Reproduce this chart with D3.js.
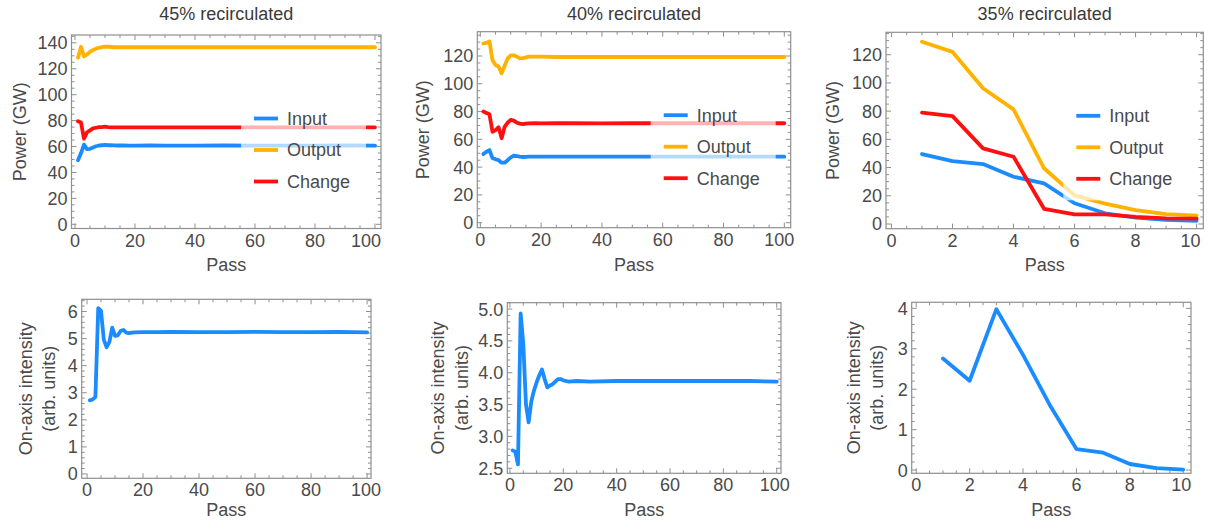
<!DOCTYPE html>
<html>
<head>
<meta charset="utf-8">
<script src="https://cdn.jsdelivr.net/npm/d3@7"></script>
<style>
  html, body { margin: 0; padding: 0; background: #fff; }
  svg { display: block; font-family: "Liberation Sans", Arial, sans-serif; }
</style>
</head>
<body>
<svg id="chart" width="1215" height="523"></svg>
<script>
// ---------- data ----------
const titles = ["45% recirculated", "40% recirculated", "35% recirculated"];
const seriesNames = ["Input", "Output", "Change"];
const xLabel = "Pass";
const powerLabel = "Power (GW)";
const intensityLabel = ["On-axis intensity", "(arb. units)"];

// 45% recirculated: power per pass
const pass45 = [1,2,3,4,5,6,7,8,9,10,11,12,13,14,15,16,18,20,25,30,40,50,60,70,80,90,100];
const input45 = [49.5,55,61.5,58,58.2,59.2,60.2,60.8,61,61.2,61,61,60.9,60.8,60.8,60.8,60.7,60.7,60.8,60.7,60.7,60.8,60.7,60.7,60.7,60.8,60.7];
const output45 = [128.5,137,129.5,131,133,134.5,135.5,136.2,136.7,137,137,136.8,136.6,136.6,136.6,136.7,136.6,136.6,136.6,136.6,136.6,136.6,136.6,136.6,136.6,136.6,136.6];
const change45 = [79.5,78.5,66,71,72.5,74,74.5,75,75,75.3,75,74.8,74.8,74.8,74.8,74.8,74.8,74.8,74.8,74.8,74.8,74.8,74.8,74.8,74.8,74.8,74.8];

// 40% recirculated: power per pass
const pass40 = [1,2,3,4,5,6,7,8,9,10,11,12,13,14,15,16,18,20,25,30,40,50,60,70,80,90,100];
const input40 = [49.4,51.1,52.3,46.5,45.6,45,43.2,43.2,45,47,48.2,48,47.5,47.3,47.4,47.5,47.5,47.5,47.5,47.5,47.5,47.5,47.5,47.5,47.5,47.5,47.5];
const output40 = [129,129.5,130.5,117,113.5,112.5,107.5,113,118.3,120.5,120.5,119.5,118.3,118.5,119,119.5,119.5,119.5,119.3,119.3,119.3,119.3,119.3,119.3,119.3,119.3,119.3];
const change40 = [80,79,78,65.5,66.7,68.7,60.8,69,72,74,73.5,72,71.3,71,71.3,71.5,71.6,71.5,71.6,71.6,71.5,71.6,71.6,71.6,71.6,71.6,71.6];

// 35% recirculated: power per pass
const pass35 = [1,2,3,4,5,6,7,8,9,10];
const input35 = [49.6,44.6,42.5,33.5,28.8,14.7,7.6,4.5,3,2.2];
const output35 = [129.2,122,96.2,81.3,39.5,20.3,14.5,9.8,7,6];
const change35 = [78.9,76.5,53.6,47.7,10.8,6.8,6.8,5,4,3.8];

// on-axis intensity per pass
const passI45 = [1,2,3,4,5,6,7,8,9,10,11,12,13,14,15,16,17,20,25,30,40,50,60,70,80,90,100];
const intensity45 = [2.72,2.75,2.85,6.12,6.02,4.95,4.68,4.88,5.4,5.1,5.12,5.28,5.32,5.22,5.2,5.22,5.23,5.24,5.24,5.25,5.24,5.24,5.25,5.24,5.24,5.25,5.23];
const passI40 = [1,2,3,4,5,6,7,8,9,10,11,12,13,14,15,16,17,18,19,20,21,22,25,30,40,50,60,70,80,90,100];
const intensity40 = [2.78,2.76,2.56,4.93,4.45,3.5,3.22,3.55,3.72,3.85,3.96,4.05,3.9,3.77,3.8,3.82,3.86,3.9,3.9,3.88,3.87,3.86,3.87,3.86,3.87,3.87,3.87,3.87,3.87,3.87,3.86];
const passI35 = [1,2,3,4,5,6,7,8,9,10];
const intensity35 = [2.76,2.21,3.98,2.85,1.61,0.52,0.43,0.15,0.05,0.01];

// ---------- styling ----------
const colors = { Input: "#1a8cff", Output: "#ffb300", Change: "#ff1010" };
const frameColor = "#8f8f8f";
const textColor = "#4a4a4a";
const fontSize = 18;

// panel layout: frame box in px, axis domains, tick spacing
const panels = [
  { frame: [71.5, 381, 35, 228.5], xDom: [-1.17, 102], yDom: [-3.24, 146.05],
    xMajor: 20, xMinor: 5, yMajor: 20, yMinor: 5, yFmt: "d", lastDx: -9,
    ylx: [19.5], passY: 271, title: titles[0],
    series: [["Input", pass45, input45], ["Output", pass45, output45], ["Change", pass45, change45]] },
  { frame: [477.3, 790.7, 31.7, 227.7], xDom: [-1, 102.1], yDom: [-3.6, 137.5],
    xMajor: 20, xMinor: 5, yMajor: 20, yMinor: 5, yFmt: "d", lastDx: -5,
    ylx: [423], passY: 271, title: titles[1],
    series: [["Input", pass40, input40], ["Output", pass40, output40], ["Change", pass40, change40]] },
  { frame: [886, 1203.3, 32.3, 228.7], xDom: [-0.18, 10.22], yDom: [-3.33, 135.9],
    xMajor: 2, xMinor: 0.5, yMajor: 20, yMinor: 5, yFmt: "d", lastDx: -6,
    ylx: [833], passY: 271, title: titles[2],
    series: [["Input", pass35, input35], ["Output", pass35, output35], ["Change", pass35, change35]] },
  { frame: [81.7, 371, 299.3, 478.3], xDom: [-1.9, 101.4], yDom: [-0.16, 6.45],
    xMajor: 20, xMinor: 5, yMajor: 1, yMinor: 0.2, yFmt: "d", lastDx: -1,
    ylx: [26, 49], passY: 516,
    series: [["Input", passI45, intensity45]] },
  { frame: [507.3, 781, 302.7, 473.3], xDom: [-1, 101.6], yDom: [2.42, 5.10],
    xMajor: 20, xMinor: 5, yMajor: 0.5, yMinor: 0.1, yFmt: ".1f", lastDx: -2,
    ylx: [438, 462], passY: 516,
    series: [["Input", passI40, intensity40]] },
  { frame: [911.7, 1191, 302.3, 473.3], xDom: [-0.17, 10.29], yDom: [-0.08, 4.15],
    xMajor: 2, xMinor: 0.5, yMajor: 1, yMinor: 0.2, yFmt: "d", lastDx: -2,
    ylx: [854, 877], passY: 516,
    series: [["Input", passI35, intensity35]] }
];

const svg = d3.select("#chart");

function tickValues(dom, step) {
  const start = Math.ceil(dom[0] / step - 1e-9) * step;
  const vals = [];
  for (let v = start; v <= dom[1] + 1e-9; v += step) vals.push(+v.toFixed(6));
  return vals;
}

panels.forEach((p, i) => {
  const [fx0, fx1, fy0, fy1] = p.frame;
  const x = d3.scaleLinear().domain(p.xDom).range([fx0, fx1]);
  const y = d3.scaleLinear().domain(p.yDom).range([fy1, fy0]);
  const g = svg.append("g");

  const clipId = "clip" + i;
  svg.append("clipPath").attr("id", clipId)
    .append("rect").attr("x", fx0).attr("y", fy0).attr("width", fx1 - fx0).attr("height", fy1 - fy0);

  // tick marks on all four sides, pointing inward
  const xMaj = tickValues(p.xDom, p.xMajor);
  const xMin = tickValues(p.xDom, p.xMinor).filter(v => !xMaj.some(m => Math.abs(m - v) < 1e-6));
  const yMaj = tickValues(p.yDom, p.yMajor);
  const yMin = tickValues(p.yDom, p.yMinor).filter(v => !yMaj.some(m => Math.abs(m - v) < 1e-6));
  const ticks = g.append("g").attr("stroke", frameColor).attr("stroke-width", 1);
  const addX = (vals, len) => vals.forEach(v => {
    const px = x(v);
    ticks.append("line").attr("x1", px).attr("x2", px).attr("y1", fy1).attr("y2", fy1 - len);
    ticks.append("line").attr("x1", px).attr("x2", px).attr("y1", fy0).attr("y2", fy0 + len);
  });
  const addY = (vals, len) => vals.forEach(v => {
    const py = y(v);
    ticks.append("line").attr("x1", fx0).attr("x2", fx0 + len).attr("y1", py).attr("y2", py);
    ticks.append("line").attr("x1", fx1).attr("x2", fx1 - len).attr("y1", py).attr("y2", py);
  });
  addX(xMaj, 5); addX(xMin, 3);
  addY(yMaj, 5); addY(yMin, 3);

  // data lines
  const line = d3.line().x(d => x(d[0])).y(d => y(d[1]));
  const lines = g.append("g").attr("clip-path", `url(#${clipId})`);
  p.series.forEach(([name, xs, ys]) => {
    lines.append("path")
      .datum(xs.map((v, k) => [v, ys[k]]))
      .attr("d", line)
      .attr("fill", "none")
      .attr("stroke", colors[name])
      .attr("stroke-width", 3.8)
      .attr("stroke-linejoin", "round")
      .attr("stroke-linecap", "round");
  });

  // frame
  g.append("rect").attr("x", fx0).attr("y", fy0).attr("width", fx1 - fx0).attr("height", fy1 - fy0)
    .attr("fill", "none").attr("stroke", frameColor).attr("stroke-width", 1.2);

  // tick labels
  const labels = g.append("g").attr("fill", textColor).attr("font-size", fontSize);
  const xf = d3.format("d");
  xMaj.forEach((v, k) => {
    labels.append("text")
      .attr("x", x(v) + (k === xMaj.length - 1 ? p.lastDx : 0))
      .attr("y", fy1 + 18)
      .attr("text-anchor", "middle")
      .text(xf(v));
  });
  const yf = d3.format(p.yFmt);
  yMaj.forEach(v => {
    labels.append("text")
      .attr("x", fx0 - 4)
      .attr("y", y(v))
      .attr("dy", "0.36em")
      .attr("text-anchor", "end")
      .text(yf(v));
  });

  // axis titles
  const cx = (fx0 + fx1) / 2, cy = (fy0 + fy1) / 2;
  labels.append("text").attr("x", cx).attr("y", p.passY).attr("text-anchor", "middle").text(xLabel);
  const yTexts = p.ylx.length === 1 ? [powerLabel] : intensityLabel;
  yTexts.forEach((t, k) => {
    labels.append("text")
      .attr("transform", `translate(${p.ylx[k]},${cy}) rotate(-90)`)
      .attr("text-anchor", "middle")
      .attr("dominant-baseline", "central")
      .text(t);
  });

  if (p.title) {
    g.append("text").attr("x", cx).attr("y", 19.5).attr("text-anchor", "middle")
      .attr("fill", "#3a3a3a").attr("font-size", fontSize).text(p.title);

    // legend on a translucent white panel
    const lg = g.append("g");
    lg.append("rect").attr("x", fx1 - 140).attr("y", fy0 + 63).attr("width", 125).attr("height", 105)
      .attr("fill", "#fff").attr("fill-opacity", 0.68);
    seriesNames.forEach((name, k) => {
      const ly = fy0 + 83.5 + k * 31.5;
      lg.append("line").attr("x1", fx1 - 127).attr("x2", fx1 - 103).attr("y1", ly).attr("y2", ly)
        .attr("stroke", colors[name]).attr("stroke-width", 3.8);
      lg.append("text").attr("x", fx1 - 94).attr("y", ly).attr("dy", "0.36em")
        .attr("fill", textColor).attr("font-size", fontSize).text(name);
    });
  }
});
</script>
</body>
</html>
